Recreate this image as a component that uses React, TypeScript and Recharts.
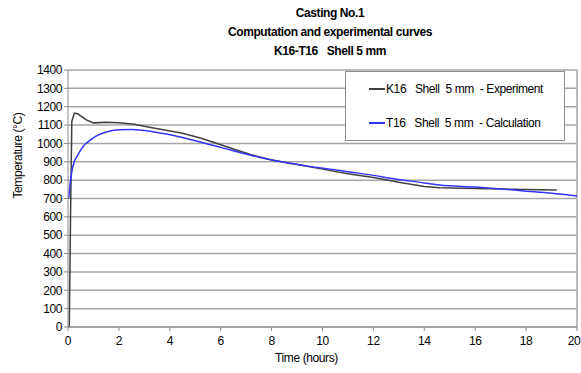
import { CartesianGrid, Line, LineChart, ReferenceLine, XAxis, YAxis } from 'recharts'

const titleLines = ['Casting No.1', 'Computation and experimental curves', 'K16-T16   Shell 5 mm']

const xTicks = [0, 2, 4, 6, 8, 10, 12, 14, 16, 18, 20]
const yTicks = [0, 100, 200, 300, 400, 500, 600, 700, 800, 900, 1000, 1100, 1200, 1300, 1400]

// K16 thermocouple, experiment
const expTime = [0.05, 0.1, 0.15, 0.25, 0.4, 0.7, 1.0, 1.5, 2.0, 2.6, 3.2, 3.8, 4.5, 5.2, 5.8, 6.5, 7.2, 8.0, 8.5, 9.0, 10.0, 11.0, 12.0, 13.0, 14.0, 14.6, 15.5, 16.6, 17.5, 18.5, 19.2]
const expTemp = [0, 600, 1120, 1165, 1160, 1130, 1112, 1115, 1112, 1104, 1088, 1073, 1055, 1030, 1002, 970, 938, 910, 897, 885, 860, 835, 814, 788, 766, 758, 756, 753, 750, 748, 746]

// T16 node, calculation
const calcTime = [0.03, 0.1, 0.2, 0.4, 0.6, 0.8, 1.1, 1.5, 2.0, 2.5, 3.0, 3.5, 4.2, 5.0, 5.8, 6.5, 7.5, 8.5, 9.5, 10.3, 11.0, 12.0, 12.65, 14.0, 14.6, 16.0, 17.0, 18.0, 19.0, 20.0]
const calcTemp = [700, 800, 880, 940, 985, 1010, 1040, 1062, 1074, 1076, 1070, 1060, 1042, 1015, 986, 960, 925, 897, 875, 860, 846, 826, 810, 785, 773, 762, 752, 740, 728, 713]

const seriesNames = ['K16   Shell  5 mm  - Experiment', 'T16   Shell  5 mm  - Calculation']
const seriesColors = ['#404040', '#3333ff']

const expData = expTime.map((t, i) => ({ t, v: expTemp[i] }))
const calcData = calcTime.map((t, i) => ({ t, v: calcTemp[i] }))

const font = '"Liberation Sans", Arial, sans-serif'
const tight = -0.4

function XTick(props: any) {
  const { x, y, payload } = props
  const last = payload.value === xTicks[xTicks.length - 1]
  return (
    <text x={last ? x - 3 : x} y={y + 12} textAnchor="middle" fill="#000" fontSize={12} fontFamily={font} letterSpacing={tight}>
      {payload.value}
    </text>
  )
}

function LegendBox() {
  return (
    <div style={{ position: 'absolute', left: 345, top: 71, width: 218, height: 68, border: '1px solid #8c8c8c', background: '#fff', fontFamily: font, fontSize: 12, letterSpacing: tight, color: '#000' }}>
      {seriesNames.map((name, i) => (
        <div key={i} style={{ position: 'absolute', left: 23, top: 10 + i * 34, display: 'flex', alignItems: 'center', whiteSpace: 'pre' }}>
          <span style={{ display: 'inline-block', width: 16, height: 0, borderTop: `2px solid ${seriesColors[i]}`, marginRight: 1 }} />
          <span>{name}</span>
        </div>
      ))}
    </div>
  )
}

export default function App() {
  return (
    <div style={{ position: 'absolute', left: 0, top: 0, width: 581, height: 373, background: '#fff' }}>
      <LineChart width={581} height={373} data={expData} margin={{ top: 70, right: 4, bottom: 0, left: 0 }}>
        <CartesianGrid vertical={false} stroke="#a6a6a6" strokeWidth={1.5} />
        <XAxis
          dataKey="t"
          type="number"
          domain={[0, 20]}
          ticks={xTicks}
          interval={0}
          allowDataOverflow
          height={46}
          stroke="#8c8c8c"
          tickSize={4}
          tick={<XTick />}
          label={{ value: 'Time (hours)', position: 'insideBottom', offset: 11, dx: -16, fill: '#000', fontSize: 12, fontFamily: font, letterSpacing: tight }}
        />
        <YAxis
          type="number"
          domain={[0, 1400]}
          ticks={yTicks}
          interval={0}
          width={68}
          stroke="#8c8c8c"
          tickSize={4}
          tick={{ fill: '#000', fontSize: 12, fontFamily: font, letterSpacing: tight }}
          label={{ value: 'Temperature (°C)', angle: -90, position: 'insideLeft', offset: 18, fill: '#000', fontSize: 12, fontFamily: font, letterSpacing: tight }}
        />
        <ReferenceLine x={20} stroke="#a6a6a6" strokeWidth={1.5} />
        <Line data={expData} dataKey="v" name={seriesNames[0]} type="linear" stroke={seriesColors[0]} strokeWidth={1.5} dot={false} isAnimationActive={false} />
        <Line data={calcData} dataKey="v" name={seriesNames[1]} type="monotone" stroke={seriesColors[1]} strokeWidth={1.5} dot={false} isAnimationActive={false} />
      </LineChart>
      <div style={{ position: 'absolute', left: 0, top: 4, width: 660, textAlign: 'center', fontFamily: font, fontWeight: 'bold', fontSize: 12, letterSpacing: tight, lineHeight: '19px' }}>
        {titleLines.map((l) => (
          <div key={l} style={{ whiteSpace: 'pre' }}>{l}</div>
        ))}
      </div>
      <LegendBox />
    </div>
  )
}
